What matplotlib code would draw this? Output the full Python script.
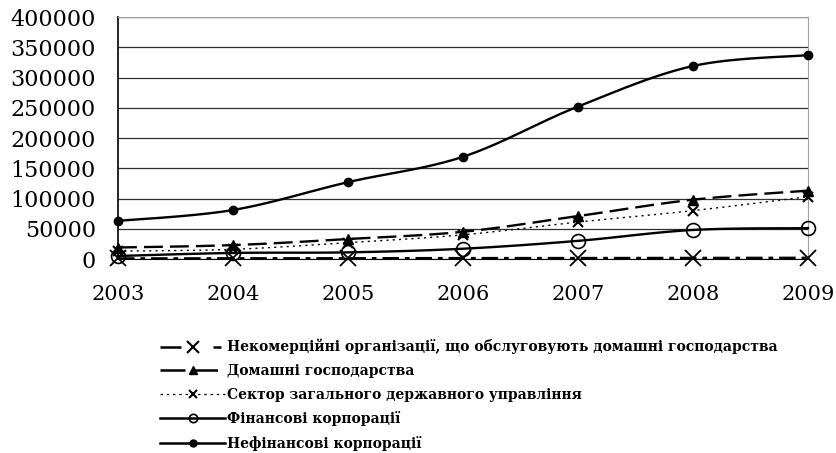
import numpy as np
import matplotlib
matplotlib.use("Agg")
import matplotlib.pyplot as plt
from matplotlib.lines import Line2D

years = [2003, 2004, 2005, 2006, 2007, 2008, 2009]
nonprofit = [1000, 1200, 1300, 1500, 1600, 1800, 2000]
households = [19000, 23000, 33000, 45000, 71000, 98000, 113000]
government = [13000, 16000, 27000, 40000, 61000, 80000, 103000]
financial = [5000, 10000, 11000, 17000, 30000, 48000, 51000]
nonfinancial = [63000, 81000, 127000, 169000, 252000, 319000, 337000]

labels = [
    "Некомерційні організації, що обслуговують домашні господарства",
    "Домашні господарства",
    "Сектор загального державного управління",
    "Фінансові корпорації",
    "Нефінансові корпорації",
]
yticks = [0, 50000, 100000, 150000, 200000, 250000, 300000, 350000, 400000]

N = 20


def smooth(x, y, n=N):
    """Catmull-Rom rendering of a line through the data points (Excel-like smoothing)."""
    x = np.asarray(x, float)
    y = np.asarray(y, float)
    px = np.concatenate([[x[0]], x, [x[-1]]])
    py = np.concatenate([[y[0]], y, [y[-1]]])
    xs, ys = [], []
    t = np.linspace(0, 1, n, endpoint=False)
    for i in range(1, len(px) - 2):
        for arr, out in ((px, xs), (py, ys)):
            p0, p1, p2, p3 = arr[i - 1], arr[i], arr[i + 1], arr[i + 2]
            m1 = (p2 - p0) / 2.0
            m2 = (p3 - p1) / 2.0
            h00 = 2 * t**3 - 3 * t**2 + 1
            h10 = t**3 - 2 * t**2 + t
            h01 = -2 * t**3 + 3 * t**2
            h11 = t**3 - t**2
            out.extend(h00 * p1 + h10 * m1 + h01 * p2 + h11 * m2)
    xs.append(x[-1])
    ys.append(y[-1])
    return np.array(xs), np.array(ys)


fig = plt.figure(figsize=(8.37, 4.53), dpi=100)
ax = fig.add_axes([118 / 837, 1 - 259 / 453, 690 / 837, 242 / 453])

series = [
    (nonprofit, dict(ls=(0, (7, 2.5, 2, 2.5)), lw=1.7, marker="x", ms=12, mew=1.3)),
    (households, dict(ls=(0, (8, 3)), lw=1.7, marker="^", ms=7, mew=1)),
    (government, dict(ls=(0, (1.5, 3)), lw=1.0, marker="x", ms=7, mew=1.5)),
    (financial, dict(ls="-", lw=1.7, marker="o", ms=10, mew=1.2, mfc="none")),
    (nonfinancial, dict(ls="-", lw=1.7, marker="o", ms=6, mew=1)),
]

for (vals, st), lab in zip(series, labels):
    sx, sy = smooth(years, vals)
    ax.plot(sx, sy, color="black", markevery=list(range(0, len(sx), N)),
            clip_on=False, zorder=3, **st)

ax.set_xlim(2003, 2009)
ax.set_ylim(0, 400000)
ax.set_yticks(yticks)
ax.set_yticklabels([str(v) for v in yticks])
ax.set_xticks(years)
ax.set_xticklabels([str(y) for y in years])
ax.grid(axis="y", color="#303030", lw=0.9)
ax.set_axisbelow(True)
for s in ("top", "right"):
    ax.spines[s].set_color("#a0a0a0")
ax.spines["left"].set_color("black")
ax.spines["left"].set_linewidth(1.2)
ax.spines["bottom"].set_color("black")
ax.tick_params(axis="both", length=0)
ax.tick_params(axis="y", pad=16, labelsize=16)
ax.tick_params(axis="x", pad=19, labelsize=15)
for t in ax.get_xticklabels() + ax.get_yticklabels():
    t.set_fontfamily("DejaVu Serif")

# legend handles (smaller markers, as in the reference legend)
handles = [
    Line2D([], [], color="black", ls=(0, (8.4, 12.8, 3.2, 10)), lw=1.8, marker="x", ms=8, mew=1.5),
    Line2D([], [], color="black", ls=(0, (10, 3)), lw=1.8, marker="^", ms=6),
    Line2D([], [], color="black", ls=(0, (2, 3)), lw=0.9, marker="x", ms=6, mew=1.5),
    Line2D([], [], color="black", ls="-", lw=1.8, marker="o", ms=6, mew=1.2, mfc="none"),
    Line2D([], [], color="black", ls="-", lw=1.8, marker="o", ms=5),
]
leg = fig.legend(handles, labels, loc="upper left", bbox_to_anchor=(160 / 837, 1 - 339 / 453),
                 frameon=False, handlelength=4.7, handletextpad=0.15,
                 labelspacing=0.69, borderpad=0, borderaxespad=0, numpoints=1,
                 prop=dict(family="DejaVu Serif", size=10, weight="bold"))

fig.savefig("out.png", dpi=100, facecolor="white")
